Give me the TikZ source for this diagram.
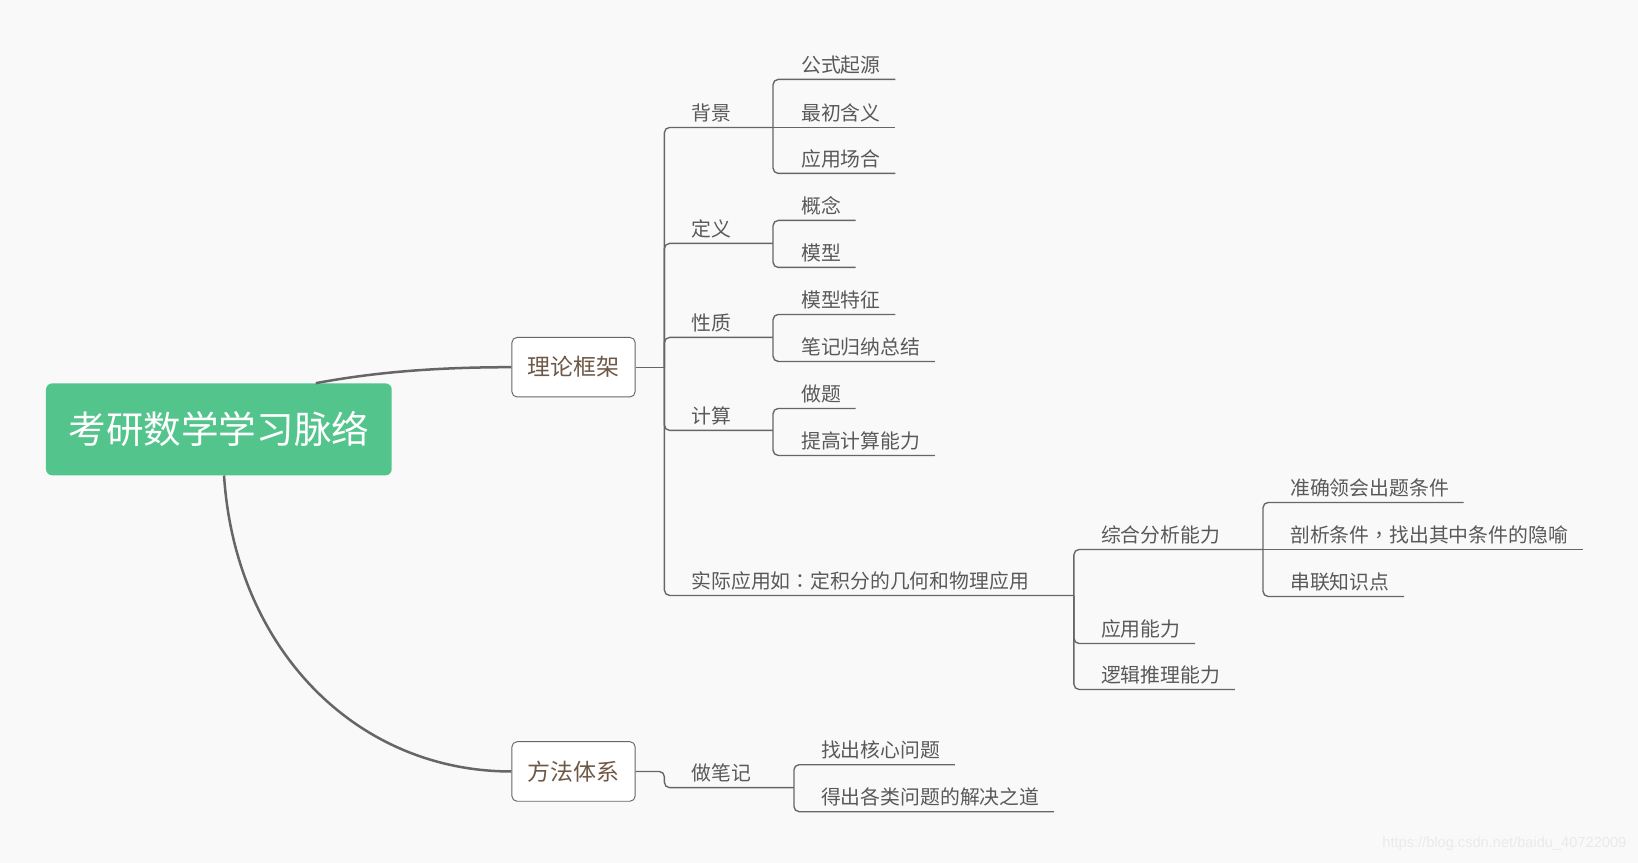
\documentclass[tikz,border=0pt]{standalone}
\usepackage{fontspec}
\newfontfamily\cjk{Noto Sans CJK SC}
\newfontfamily\cjktc{Noto Sans CJK TC}
\setsansfont{Liberation Sans}
\usetikzlibrary{calc}
\definecolor{bg}{HTML}{F9F9F9}
\definecolor{rootgreen}{HTML}{52C48C}
\definecolor{linegray}{HTML}{666666}
\definecolor{txtgray}{HTML}{595959}
\definecolor{boxbrown}{HTML}{6E5946}
\definecolor{wm}{HTML}{EAEAEA}
\begin{document}
\begin{tikzpicture}[x=1pt,y=-1pt,
  lbl/.style={font=\cjk\fontsize{19}{19}\selectfont, text=txtgray, inner sep=0pt, outer sep=0pt, anchor=base west},
  conn/.style={draw=linegray, line width=1.3pt, rounded corners=5pt},
  mainbox/.style={draw=linegray, line width=0.9pt, fill=white, rounded corners=5pt, minimum width=118pt, minimum height=57pt, font=\cjk\fontsize{22}{22}\selectfont, text=boxbrown, inner sep=0pt},
  curve/.style={draw=linegray, line width=2.4pt}]

\fill[bg] (0,0) rectangle (1568,826);
\useasboundingbox (0,0) rectangle (1568,826);

% root and main boxes
\node[fill=rootgreen, rounded corners=6pt, minimum width=331pt, minimum height=88pt, inner sep=0pt, text=white, font=\cjk\fontsize{36}{36}\selectfont] (root) at (209.5,411) {考研数学学习脉络};
\node[mainbox] (lltj) at (549,351.5) {理论框架};
\node[mainbox] (ffjx) at (549,738.5) {方法体系};

\draw[curve] ($(root.north west)!0.78!(root.north east)$) .. controls (360,356) and (420,351.5) .. (lltj.west);
\draw[curve] ($(root.south west)!0.515!(root.south east)$) .. controls (225,620) and (340,738.5) .. (ffjx.west);

\coordinate (h1) at (636,351.5);
\coordinate (h2) at (636,738.5);
\draw[conn] (lltj.east) -- (h1);

% level 1 under 理论框架
\node[lbl] (bj) at (662,115) {背景};
\coordinate (bj-u) at (740,122);
\node[lbl] (dy) at (662,226) {定义};
\coordinate (dy-u) at (740,233);
\node[lbl] (xz) at (662,316) {性质};
\coordinate (xz-u) at (740,323);
\node[lbl] (js) at (662,405) {计算};
\coordinate (js-u) at (740,412);
\node[lbl] (sj) at (662,563) {实际应用如{\cjktc ：}定积分的几何和物理应用};
\coordinate (sj-u) at (1028,570);

\foreach \p in {bj-u,dy-u,xz-u,js-u,sj-u}{\draw[conn] (h1) |- (\p);}

% 背景 children
\node[lbl] (bj1) at (767,69) {公式起源};
\node[lbl] (bj2) at (767,115) {最初含义};
\node[lbl] (bj3) at (767,159) {应用场合};
% 定义 children
\node[lbl] (dy1) at (767,204) {概念};
\node[lbl] (dy2) at (767,249) {模型};
% 性质 children
\node[lbl] (xz1) at (767,294) {模型特征};
\node[lbl] (xz2) at (767,339) {笔记归纳总结};
% 计算 children
\node[lbl] (js1) at (767,384) {做题};
\node[lbl] (js2) at (767,429) {提高计算能力};
% 实际应用 children
\node[lbl] (sj1) at (1054,519) {综合分析能力};
\coordinate (sj1-u) at (1209,526);
\node[lbl] (sj2) at (1054,609) {应用能力};
\node[lbl] (sj3) at (1054,653) {逻辑推理能力};
% 综合分析能力 children
\node[lbl] (zh1) at (1235,474) {准确领会出题条件};
\node[lbl] (zh2) at (1235,519) {剖析条件{\cjktc ，}找出其中条件的隐喻};
\node[lbl] (zh3) at (1235,564) {串联知识点};

% 方法体系
\node[lbl] (zbj) at (662,747) {做笔记};
\coordinate (zbj-u) at (760,754);
\node[lbl] (zb1) at (786,725) {找出核心问题};
\node[lbl] (zb2) at (786,770) {得出各类问题的解决之道};

\foreach \n in {bj1,bj2,bj3,dy1,dy2,xz1,xz2,js1,js2,sj2,sj3,zh1,zh2,zh3,zb1,zb2}{
  \coordinate (\n-u) at ([xshift=14pt,yshift=-7pt]\n.base east);}

\draw[conn] (bj-u) |- (bj1-u);
\draw[conn] (bj-u) -- (bj2-u);
\draw[conn] (bj-u) |- (bj3-u);
\draw[conn] (dy-u) |- (dy1-u);
\draw[conn] (dy-u) |- (dy2-u);
\draw[conn] (xz-u) |- (xz1-u);
\draw[conn] (xz-u) |- (xz2-u);
\draw[conn] (js-u) |- (js1-u);
\draw[conn] (js-u) |- (js2-u);
\draw[conn] (sj-u) |- (sj1-u);
\draw[conn] (sj-u) |- (sj2-u);
\draw[conn] (sj-u) |- (sj3-u);
\draw[conn] (sj1-u) |- (zh1-u);
\draw[conn] (sj1-u) -- (zh2-u);
\draw[conn] (sj1-u) |- (zh3-u);

\draw[conn] (ffjx.east) -- (h2) |- (zbj-u);
\draw[conn] (zbj-u) |- (zb1-u);
\draw[conn] (zbj-u) |- (zb2-u);

\node[font=\sffamily\fontsize{14}{14}\selectfont, text=wm, anchor=east, inner sep=0pt] (wmk) at (1557,808) {https://blog.csdn.net/baidu\_40722009};
\end{tikzpicture}
\end{document}
